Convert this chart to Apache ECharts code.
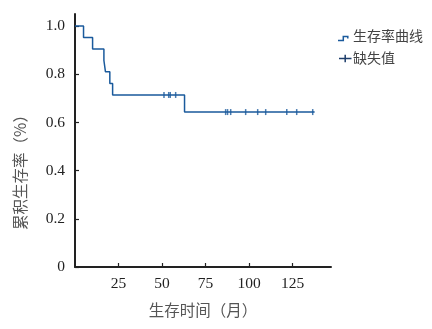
<!DOCTYPE html>
<html>
<head>
<meta charset="utf-8">
<script src="https://cdn.jsdelivr.net/npm/echarts@6/dist/echarts.min.js"></script>
<style>
  html, body { margin: 0; padding: 0; background: #fff; }
  #chart { width: 432px; height: 329px; }
</style>
</head>
<body>
<div id="chart"></div>
<script>
// Kaplan-Meier survival estimate: event times (months) and survival after each step
const stepTimes = [0, 4.9, 10.1, 16.6, 17.5, 20.0, 21.6, 62.9, 137.6];
const stepSurvival = [1.0, 0.952, 0.905, 0.857, 0.810, 0.762, 0.714, 0.643, 0.643];

// Censored observations (months) and the survival level they sit on
const censorTimes = [51.1, 53.8, 54.7, 57.8, 86.5, 87.6, 89.4, 98.0, 104.9, 109.5, 121.6, 127.3, 136.5];
const censorSurvival = [0.714, 0.714, 0.714, 0.714, 0.643, 0.643, 0.643, 0.643, 0.643, 0.643, 0.643, 0.643, 0.643];

// Axis ticks
const xTicks = [25, 50, 75, 100, 125];
const yTicks = [0, 0.2, 0.4, 0.6, 0.8, 1.0];

const seriesNames = ['生存率曲线', '缺失值'];
const xTitle = '生存时间（月）';
const yTitle = '累积生存率（%）';

const curveColor = '#1a5a9c';
const censorKeyColor = '#1d3d6b';
const cjkFont = '"Noto Sans CJK SC", "Noto Sans", sans-serif';
const numFont = '"Liberation Serif", "DejaVu Serif", serif';

const chart = echarts.init(document.getElementById('chart'), null, { renderer: 'canvas' });

// Key at the upper right: a small step glyph for the curve and a cross for censored cases
const keyText = { fontFamily: cjkFont, fontSize: 14, fill: '#444', verticalAlign: 'middle' };
const keyGraphics = [
  {
    type: 'polyline',
    shape: { points: [[338, 40.5], [343.3, 40.5], [343.3, 36.6], [347.8, 36.6], [347.8, 38.6]] },
    style: { stroke: curveColor, lineWidth: 1.5, fill: null }
  },
  { type: 'text', left: 353, top: 29, style: Object.assign({ text: seriesNames[0] }, keyText) },
  {
    type: 'line',
    shape: { x1: 339, y1: 58.5, x2: 351.5, y2: 58.5 },
    style: { stroke: censorKeyColor, lineWidth: 1.5 }
  },
  {
    type: 'line',
    shape: { x1: 345.2, y1: 54.8, x2: 345.2, y2: 62.2 },
    style: { stroke: censorKeyColor, lineWidth: 1.5 }
  },
  { type: 'text', left: 353, top: 50.5, style: Object.assign({ text: seriesNames[1] }, keyText) }
];

chart.setOption({
  animation: false,
  backgroundColor: '#ffffff',
  grid: { left: 75, right: 101, top: 14, bottom: 62, containLabel: false },
  graphic: keyGraphics,
  xAxis: {
    type: 'value',
    min: 0,
    max: 147,
    interval: 25,
    name: xTitle,
    nameLocation: 'middle',
    nameGap: 35,
    nameTextStyle: { fontFamily: cjkFont, fontSize: 15.5, color: '#555' },
    splitLine: { show: false },
    axisLine: { show: true, onZero: false, lineStyle: { color: '#222', width: 2 } },
    axisTick: { show: true, inside: true, length: 4, lineStyle: { color: '#222', width: 1.2 }, customValues: xTicks },
    axisLabel: { fontFamily: numFont, fontSize: 15.5, color: '#222', margin: 9, customValues: xTicks }
  },
  yAxis: {
    type: 'value',
    min: 0,
    max: 1.05,
    interval: 0.2,
    name: yTitle,
    nameLocation: 'middle',
    nameRotate: 90,
    nameGap: 47,
    nameTextStyle: { fontFamily: cjkFont, fontSize: 15.5, color: '#555', padding: [0, 56, 0, 0] },
    splitLine: { show: false },
    axisLine: { show: true, onZero: false, lineStyle: { color: '#222', width: 2 } },
    axisTick: { show: true, inside: true, length: 4, lineStyle: { color: '#222', width: 1.2 }, customValues: yTicks },
    axisLabel: {
      fontFamily: numFont, fontSize: 15.5, color: '#222', margin: 10,
      customValues: yTicks,
      formatter: v => (v === 0 ? '0' : v.toFixed(1))
    }
  },
  series: [
    {
      name: seriesNames[0],
      type: 'line',
      step: 'end',
      showSymbol: false,
      symbol: 'none',
      color: curveColor,
      lineStyle: { color: curveColor, width: 1.5 },
      data: stepTimes.map((t, i) => [t, stepSurvival[i]]),
      z: 3
    },
    {
      name: seriesNames[1],
      type: 'scatter',
      symbol: 'rect',
      symbolSize: [1.5, 6],
      itemStyle: { color: curveColor },
      data: censorTimes.map((t, i) => [t, censorSurvival[i]]),
      z: 4
    }
  ]
});
</script>
</body>
</html>
